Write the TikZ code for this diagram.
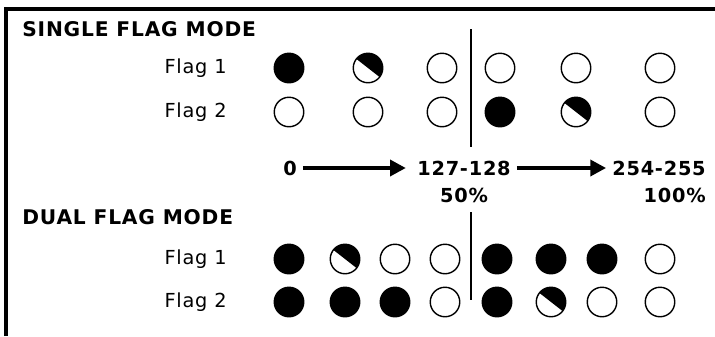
\documentclass[tikz,border=0pt]{standalone}
\usepackage{fontspec}
\setmainfont{DejaVu Sans}[LetterSpace=4]
\usetikzlibrary{positioning,arrows.meta}

\begin{document}
\begin{tikzpicture}[x=0.02cm, y=0.02cm, every node/.style={font=\fontsize{11}{13}\selectfont},
    flag/.style={circle, draw, line width=0.8pt, inner sep=0pt, minimum size=5.9mm},
    flagon/.style={flag, fill=black},
    flagoff/.style={flag, fill=white},
    flaghalf/.style={flag, fill=white, path picture={
        \fill[black] (path picture bounding box.center) ++(142:20) arc[start angle=142, end angle=-38, radius=20] -- cycle;}},
    modetitle/.style={anchor=west, inner sep=0pt, font=\bfseries\fontsize{11.5}{14}\selectfont},
    rowlabel/.style={inner sep=0pt},
    steplabel/.style={font=\bfseries\fontsize{11}{13}\selectfont},
    sweep/.style={line width=2.3pt, -{Triangle[length=9pt, width=9pt]}}]
    \useasboundingbox (0,0) rectangle (715,336);

    % Frame - only top and left edges show
    \draw[line width=2pt] (6,0) -- (6,327) -- (715,327);

    % Single flag mode
    \node[modetitle] (single) at (22,307) {SINGLE FLAG MODE};
    \foreach \x/\a/\b [count=\i] in {289/flagon/flagoff, 368/flaghalf/flagoff, 442/flagoff/flagoff,
                                     500/flagoff/flagon, 576/flagoff/flaghalf, 660/flagoff/flagoff} {
        \node[\a] (sa\i) at (\x,268) {};
        \node[\b] (sb\i) at (\x,224) {};
    }
    \node[rowlabel, left=0.93cm of sa1] (sflag1) {Flag 1};
    \node[rowlabel, left=0.93cm of sb1] (sflag2) {Flag 2};
    \draw[line width=1.3pt] (471,307) -- (471,189);

    % Scale of values
    \node[steplabel] (zero) at (290,168) {0};
    \node[steplabel] (half) at (464,168) {127-128};
    \node[steplabel] (full) at (659,168) {254-255};
    \node[steplabel, anchor=north] (halfpct) at (half.south) {50\%};
    \node[steplabel, anchor=north east] (fullpct) at (full.south east) {100\%};
    \draw[sweep, shorten >=3pt] (zero) -- (half);
    \draw[sweep] (half) -- (full);

    % Dual flag mode
    \node[modetitle] (dual) at (22,119) {DUAL FLAG MODE};
    \foreach \x/\a/\b [count=\i] in {289/flagon/flagon, 345/flaghalf/flagon, 395/flagoff/flagon, 445/flagoff/flagoff,
                                     497/flagon/flagon, 551/flagon/flaghalf, 602/flagon/flagoff, 660/flagoff/flagoff} {
        \node[\a] (da\i) at (\x,77) {};
        \node[\b] (db\i) at (\x,34) {};
    }
    \node[rowlabel, left=0.93cm of da1] (dflag1) {Flag 1};
    \node[rowlabel, left=0.93cm of db1] (dflag2) {Flag 2};
    \draw[line width=1.3pt] (471,124) -- (471,36);
\end{tikzpicture}
\end{document}
